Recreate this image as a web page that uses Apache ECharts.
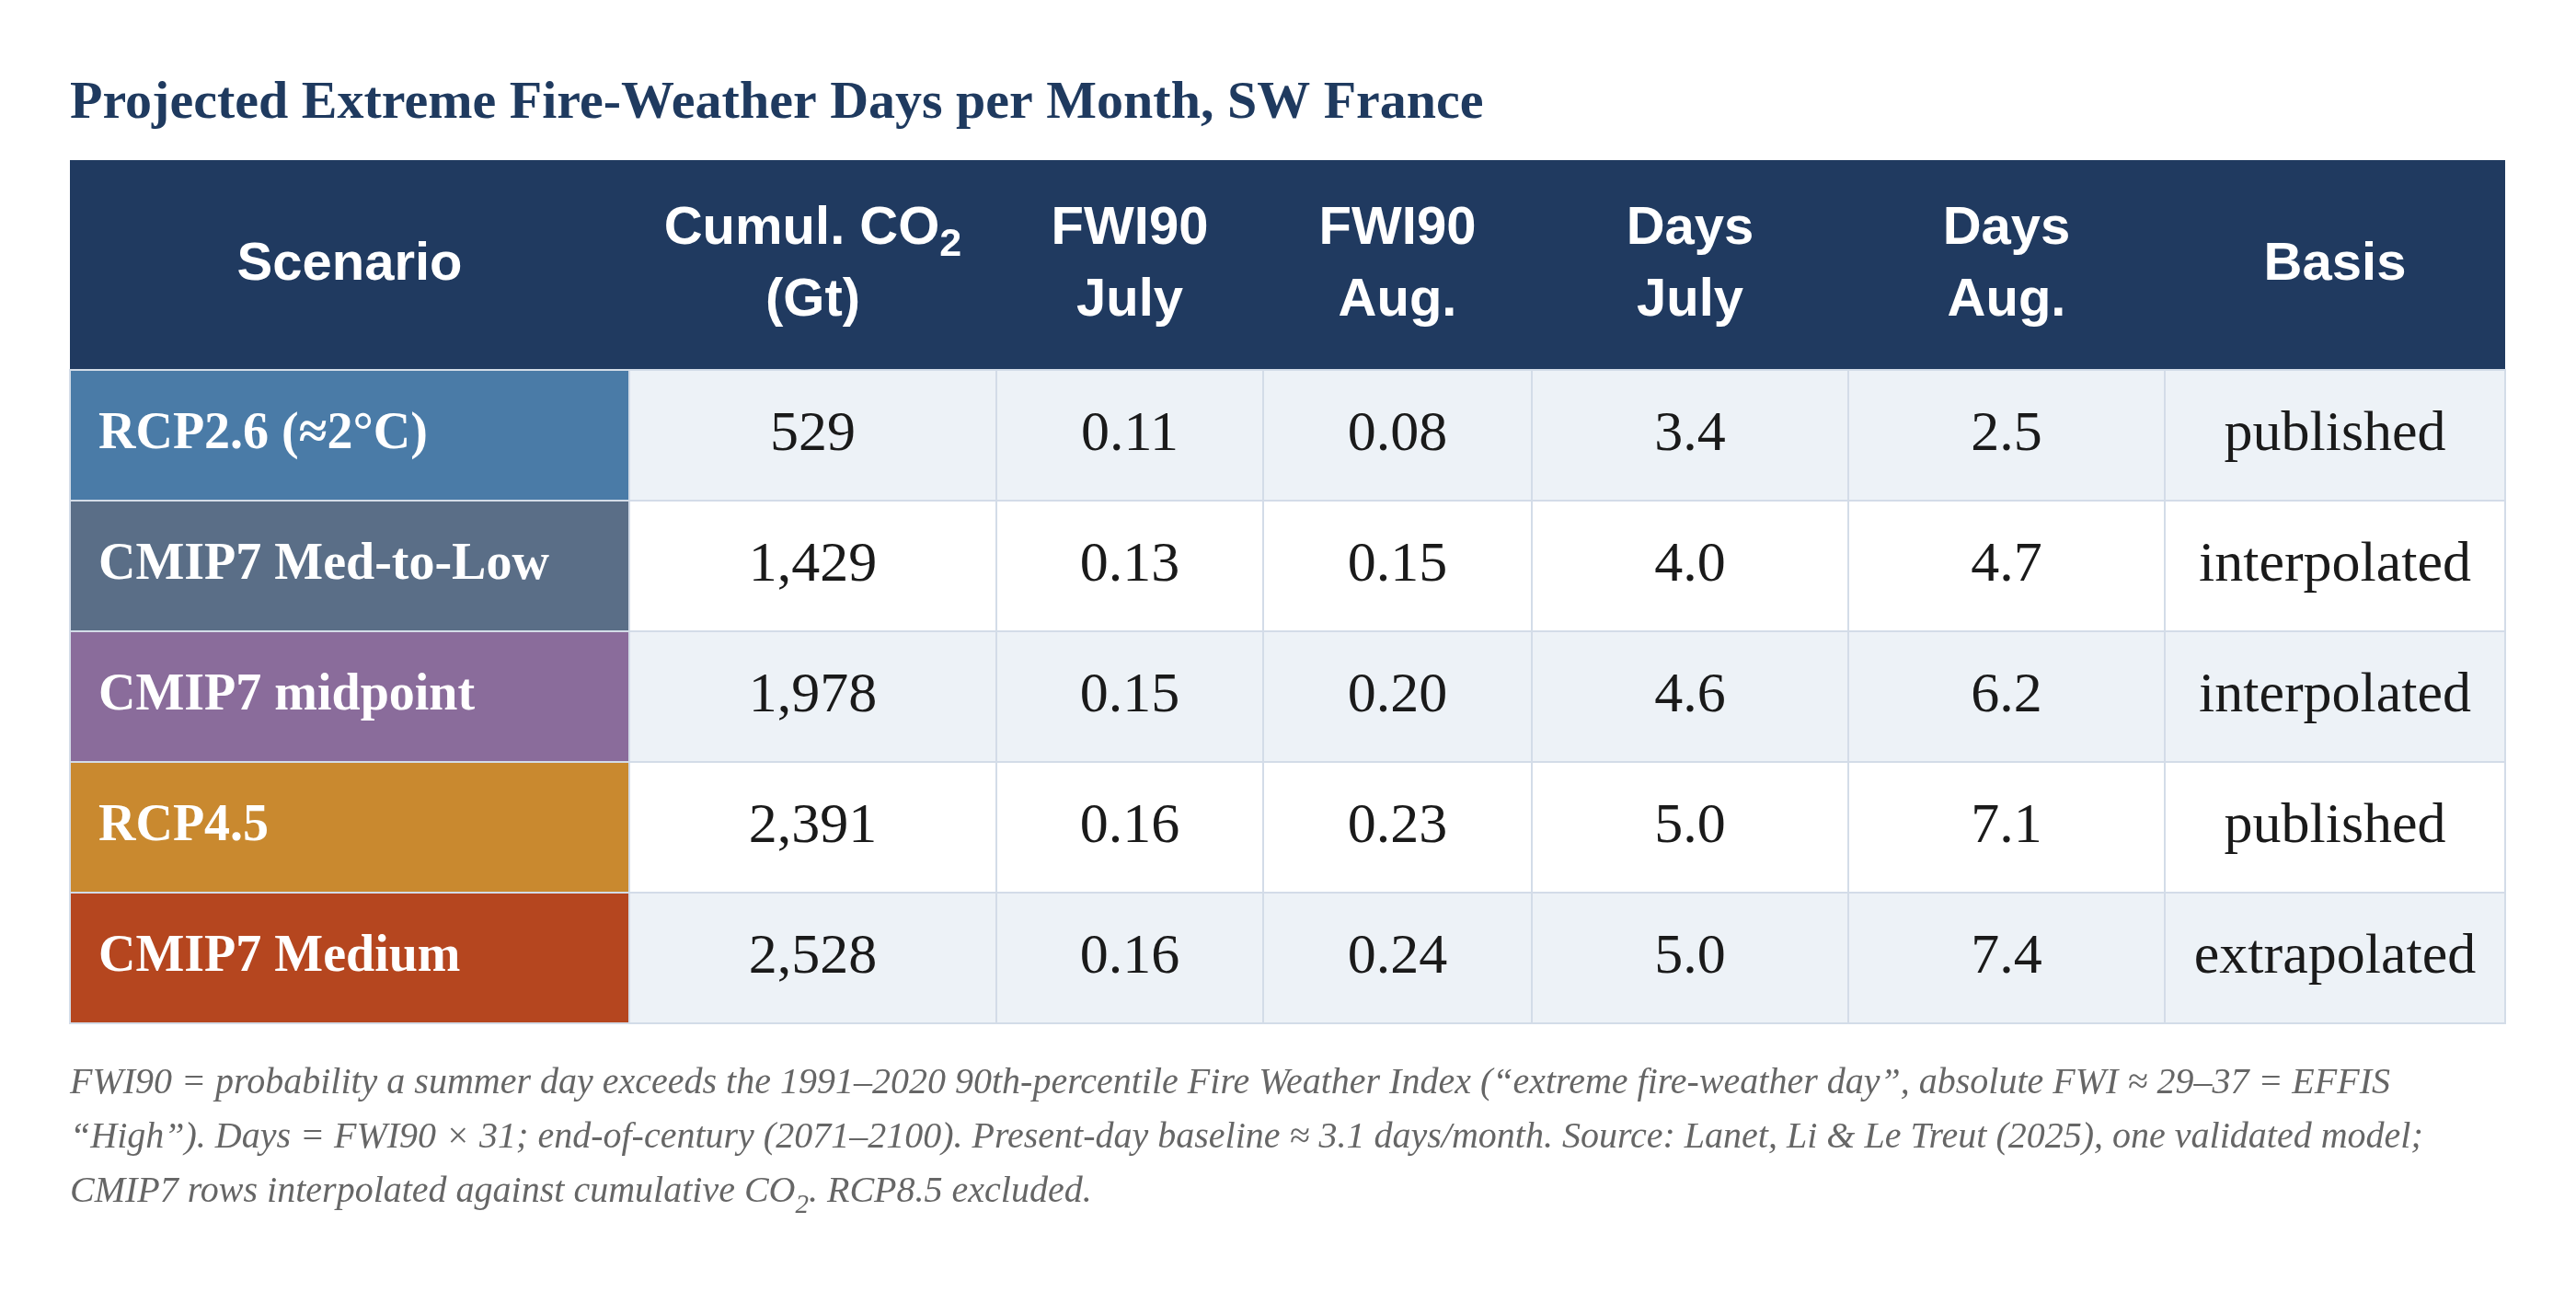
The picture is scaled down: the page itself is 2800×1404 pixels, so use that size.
<!DOCTYPE html>
<html>

<head>
    <meta charset="UTF-8">
    <title>Projected Extreme Fire-Weather Days</title>
    <style>
        html, body { margin: 0; padding: 0; background: #fff; }
    </style>
</head>

<script src="https://cdn.jsdelivr.net/npm/echarts@6/dist/echarts.min.js"></script>

<body>
    <div id="fireTableBox" style="width: 2800px;height:1404px;"></div>

    <script>
        // table data
        var headers = ['Scenario', 'Cumul. CO2\n(Gt)', 'FWI90\nJuly', 'FWI90\nAug.', 'Days\nJuly', 'Days\nAug.', 'Basis'];
        var scenarios = ['RCP2.6 (≈2°C)', 'CMIP7 Med-to-Low', 'CMIP7 midpoint', 'RCP4.5', 'CMIP7 Medium'];
        var cumulCO2 = [529, 1429, 1978, 2391, 2528];
        var fwiJuly = [0.11, 0.13, 0.15, 0.16, 0.16];
        var fwiAug = [0.08, 0.15, 0.20, 0.23, 0.24];
        var daysJuly = [3.4, 4.0, 4.6, 5.0, 5.0];
        var daysAug = [2.5, 4.7, 6.2, 7.1, 7.4];
        var basis = ['published', 'interpolated', 'interpolated', 'published', 'extrapolated'];

        // styles / layout (not data)
        var scenarioColors = ['#4a7ba7', '#5a6e87', '#8a6c9b', '#c9892f', '#b5461f'];
        var colWidths = [608, 399, 290, 292, 344, 344, 370];
        var headH = 228;
        var rowH = 142;

        $ready(function () {
            fireTable('fireTableBox');
        });

        function $ready(fn) {
            if (document.readyState !== 'loading') fn();
            else document.addEventListener('DOMContentLoaded', fn);
        }

        function cellText(c, r) {
            if (c === 0) return scenarios[r];
            if (c === 1) return cumulCO2[r].toLocaleString('en-US');
            if (c === 2) return fwiJuly[r].toFixed(2);
            if (c === 3) return fwiAug[r].toFixed(2);
            if (c === 4) return daysJuly[r].toFixed(1);
            if (c === 5) return daysAug[r].toFixed(1);
            return basis[r];
        }

        function fireTable(idname) {
            var myChart = echarts.init(document.getElementById(idname));

            var colEdges = [0];
            colWidths.forEach(function (w, i) { colEdges.push(colEdges[i] + w); });
            var totalW = colEdges[colEdges.length - 1];
            var totalH = headH + rowH * scenarios.length;

            // one item per cell: [column, row], row -1 = header
            var cells = [];
            for (var c = 0; c < headers.length; c++) cells.push([c, -1]);
            for (var r = 0; r < scenarios.length; r++) {
                for (var c2 = 0; c2 < headers.length; c2++) cells.push([c2, r]);
            }

            function headerRich(txt) {
                // CO2 gets a real subscript
                return txt.split('\n').map(function (line) {
                    if (line.indexOf('CO2') >= 0) return '{h|' + line.replace('CO2', 'CO') + '}{sub|2}';
                    return '{h|' + line + '}';
                }).join('\n');
            }

            function renderItem(params, api) {
                var c = api.value(0), r = api.value(1);
                var y0 = r < 0 ? 0 : headH + r * rowH;
                var y1 = r < 0 ? headH : y0 + rowH;
                var p0 = api.coord([colEdges[c], y0]);
                var p1 = api.coord([colEdges[c + 1], y1]);
                var w = p1[0] - p0[0], h = p1[1] - p0[1];
                var cx = p0[0] + w / 2, cy = p0[1] + h / 2;

                var fill, stroke, textEl;
                if (r < 0) {
                    fill = '#203a60';
                    stroke = '#203a60';
                    textEl = {
                        type: 'text',
                        style: {
                            text: headerRich(headers[c]),
                            x: cx, y: cy,
                            align: 'center', verticalAlign: 'middle',
                            rich: {
                                h: { fontFamily: 'Liberation Sans', fontWeight: 'bold', fontSize: 58, lineHeight: 78, fill: '#fff' },
                                sub: { fontFamily: 'Liberation Sans', fontWeight: 'bold', fontSize: 43, lineHeight: 44, verticalAlign: 'bottom', fill: '#fff' }
                            }
                        }
                    };
                } else if (c === 0) {
                    fill = scenarioColors[r];
                    stroke = '#d3dce8';
                    textEl = {
                        type: 'text',
                        style: {
                            text: cellText(c, r),
                            x: p0[0] + 31, y: cy,
                            align: 'left', verticalAlign: 'middle',
                            font: 'bold 56px "Liberation Serif"',
                            fill: '#fff'
                        }
                    };
                } else {
                    fill = r % 2 === 0 ? '#edf2f7' : '#ffffff';
                    stroke = '#d3dce8';
                    textEl = {
                        type: 'text',
                        style: {
                            text: cellText(c, r),
                            x: cx, y: cy,
                            align: 'center', verticalAlign: 'middle',
                            font: '62px "Liberation Serif"',
                            fill: '#1a1a1a'
                        }
                    };
                }

                return {
                    type: 'group',
                    children: [{
                        type: 'rect',
                        shape: { x: p0[0], y: p0[1], width: w, height: h },
                        style: { fill: fill, stroke: stroke, lineWidth: r < 0 ? 0 : 2 }
                    }, textEl]
                };
            }

            var option = {
                animation: false,
                title: [{
                    text: 'Projected Extreme Fire-Weather Days per Month, SW France',
                    left: 76,
                    top: 84,
                    padding: 0,
                    textStyle: {
                        fontFamily: 'Liberation Serif',
                        fontWeight: 'bold',
                        fontSize: 58,
                        lineHeight: 58,
                        color: '#1f3a5f'
                    }
                }, {
                    text: 'FWI90 = probability a summer day exceeds the 1991–2020 90th-percentile Fire Weather Index (“extreme fire-weather day”, absolute FWI ≈ 29–37 = EFFIS\n' +
                        '“High”). Days = FWI90 × 31; end-of-century (2071–2100). Present-day baseline ≈ 3.1 days/month. Source: Lanet, Li & Le Treut (2025), one validated model;\n' +
                        'CMIP7 rows interpolated against cumulative CO{sub|2}. RCP8.5 excluded.',
                    left: 76,
                    top: 1148,
                    padding: 0,
                    textStyle: {
                        fontFamily: 'Liberation Serif',
                        fontStyle: 'italic',
                        fontWeight: 'normal',
                        fontSize: 40,
                        lineHeight: 59,
                        color: '#666666',
                        rich: {
                            sub: { fontFamily: 'Liberation Serif', fontStyle: 'italic', fontSize: 29, lineHeight: 30, verticalAlign: 'bottom', color: '#666666' }
                        }
                    }
                }],
                grid: {
                    left: 76,
                    top: 174,
                    width: totalW,
                    height: totalH
                },
                xAxis: {
                    type: 'value',
                    min: 0,
                    max: totalW,
                    show: false
                },
                yAxis: {
                    type: 'value',
                    min: 0,
                    max: totalH,
                    inverse: true,
                    show: false
                },
                series: [{
                    type: 'custom',
                    renderItem: renderItem,
                    data: cells,
                    silent: true
                }]
            };

            myChart.setOption(option);
        }
    </script>

</body>

</html>
